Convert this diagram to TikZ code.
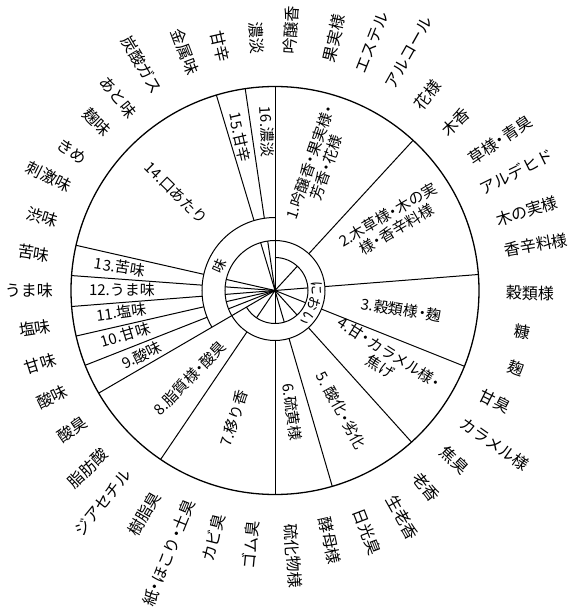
\documentclass[tikz,border=0pt]{standalone}
\usepackage{fontspec}
\setmainfont{Noto Sans CJK JP}
\newcommand\ndot{\makebox[0.55em][c]{・}}
\begin{document}
\begin{tikzpicture}[x=1pt,y=1pt,
  wline/.style={line width=1pt, draw=black},
  olab/.style={font=\fontsize{16}{18}\selectfont, inner sep=0pt},
  ilab/.style={font=\fontsize{15}{17}\selectfont, inner sep=0pt, align=center},
  rlab/.style={font=\fontsize{14}{16}\selectfont, inner sep=0pt},
]
\useasboundingbox[fill=white] (-275,-322.5) rectangle (307,290.5);
% circles and arcs
\draw[wline, line width=1.3pt] (0,0) circle[radius=204pt];
\draw[wline] (0,0) circle[radius=50pt];
\draw[wline] (90:73) arc[start angle=90, end angle=210.2, radius=73pt];
\draw[wline] (90:33) arc[start angle=90, end angle=-149.8, radius=33pt];
% full spokes
\draw[wline] (0,0) -- (90:204);
\draw[wline] (0,0) -- (210.2:204);
% taste spokes
\foreach \a in {98.4,106.7,167.2,175.8,184.5,192.9,201.5} {
  \draw[wline] (\a:73) -- (\a:204);
  \draw[wline] (0,0) -- (\a:50);
}
% aroma spokes
\foreach \a in {47.4,4.5,-21.8,-48,-73.7,-90,-124.1} {
  \draw[wline] (\a:50) -- (\a:204);
  \draw[wline] (0,0) -- (\a:33);
}
% ring labels
\node[rlab, rotate=66] (mi) at (156:61) {味};
\node[rlab, rotate=-87] (ni) at (3:42) {に};
\node[rlab, rotate=-109] (o) at (-19:42) {お};
\node[rlab, rotate=-131] (i) at (-41:42) {い};
% inner labels
\node[ilab, rotate=71] (s1) at (71:133) {1.吟醸香\ndot 果実様\ndot\\芳香\ndot 花様};
\node[ilab, rotate=30.3] (s2) at (30.3:136) {2.木草様\ndot 木の実\\様\ndot 香辛料様};
\node[ilab, rotate=-8.7] (s3) at (-8.7:128) {3.穀類様\ndot 麹};
\node[ilab, rotate=-32.3] (s4) at (-32.3:130) {4.甘\ndot カラメル様\ndot\\焦げ};
\node[ilab, rotate=-61.1] (s5) at (-61.1:137) {5. 酸化\ndot 劣化};
\node[ilab, rotate=-82] (s6) at (-82:123) {6.硫黄様};
\node[ilab, rotate=72.2] (s7) at (252.2:134) {7.移り香};
\node[ilab, rotate=45.8] (s8) at (225.8:122) {8.脂質様\ndot 酸臭};
\node[ilab, rotate=25.9] (s9) at (205.9:148) {9.酸味};
\node[ilab, rotate=16.6] (s10) at (196.6:156) {10.甘味};
\node[ilab, rotate=8] (s11) at (188:155) {11.塩味};
\node[ilab, rotate=-0.2] (s12) at (179.8:153) {12.うま味};
\node[ilab, rotate=-8.6] (s13) at (171.4:157) {13.苦味};
\node[ilab, rotate=-44.6] (s14) at (135.4:139) {14.口あたり};
\node[ilab, rotate=-77.2] (s15) at (102.8:157) {15.甘辛};
\node[ilab, rotate=-87.1] (s16) at (92.9:159) {16.濃淡};
% outer labels
\node[olab, rotate=86.5] (o1) at (86.5:261) {吟醸香};
\node[olab, rotate=76.8] (o2) at (76.8:259) {果実様};
\node[olab, rotate=68.6] (o3) at (68.6:266) {エステル};
\node[olab, rotate=60.6] (o4) at (60.6:273) {アルコール};
\node[olab, rotate=52] (o5) at (52:248) {花様};
\node[olab, rotate=43] (o6) at (43:247) {木香};
\node[olab, rotate=33.8] (o7) at (33.8:271) {草様\ndot 青臭};
\node[olab, rotate=26.2] (o8) at (26.2:269) {アルデヒド};
\node[olab, rotate=17.5] (o9) at (17.5:264) {木の実様};
\node[olab, rotate=9.9] (o10) at (9.9:265) {香辛料様};
\node[olab, rotate=-0.6] (o11) at (-0.6:255) {穀類様};
\node[olab, rotate=-9.5] (o12) at (-9.5:251) {糠};
\node[olab, rotate=-18] (o13) at (-18:253) {麹};
\node[olab, rotate=-26.7] (o14) at (-26.7:246) {甘臭};
\node[olab, rotate=-34.9] (o15) at (-34.9:268) {カラメル様};
\node[olab, rotate=-43.4] (o16) at (-43.4:247) {焦臭};
\node[olab, rotate=-52.5] (o17) at (-52.5:248) {老香};
\node[olab, rotate=-60.7] (o18) at (-60.7:260) {生老香};
\node[olab, rotate=-69.1] (o19) at (-69.1:258) {日光臭};
\node[olab, rotate=-77.6] (o20) at (-77.6:256) {酵母様};
\node[olab, rotate=-86.1] (o21) at (-86.1:266) {硫化物様};
\node[olab, rotate=84.6] (o22) at (264.6:256) {ゴム臭};
\node[olab, rotate=76] (o23) at (256:255) {カビ臭};
\node[olab, rotate=68] (o24) at (248:283) {紙\ndot ほこり\ndot 土臭};
\node[olab, rotate=59.6] (o25) at (239.6:259) {樹脂臭};
\node[olab, rotate=50.9] (o26) at (230.9:273) {ジアセチル};
\node[olab, rotate=43.5] (o27) at (223.5:258) {脂肪酸};
\node[olab, rotate=34.5] (o28) at (214.5:246) {酸臭};
\node[olab, rotate=25.5] (o29) at (205.5:247) {酸味};
\node[olab, rotate=17.4] (o30) at (197.4:246) {甘味};
\node[olab, rotate=8.9] (o31) at (188.9:243) {塩味};
\node[olab, rotate=-0.1] (o32) at (179.9:246) {うま味};
\node[olab, rotate=-8.8] (o33) at (171.2:244) {苦味};
\node[olab, rotate=-17.5] (o34) at (162.5:244) {渋味};
\node[olab, rotate=-26.7] (o35) at (153.3:253) {刺激味};
\node[olab, rotate=-34.3] (o36) at (145.7:246) {きめ};
\node[olab, rotate=-43.4] (o37) at (136.6:245) {麹味};
\node[olab, rotate=-50.9] (o38) at (129.1:249) {あと味};
\node[olab, rotate=-59.5] (o39) at (120.5:262) {炭酸ガス};
\node[olab, rotate=-69.3] (o40) at (110.7:255) {金属味};
\node[olab, rotate=-77.3] (o41) at (102.7:250) {甘辛};
\node[olab, rotate=-85.9] (o42) at (94.1:253) {濃淡};
\end{tikzpicture}
\end{document}
